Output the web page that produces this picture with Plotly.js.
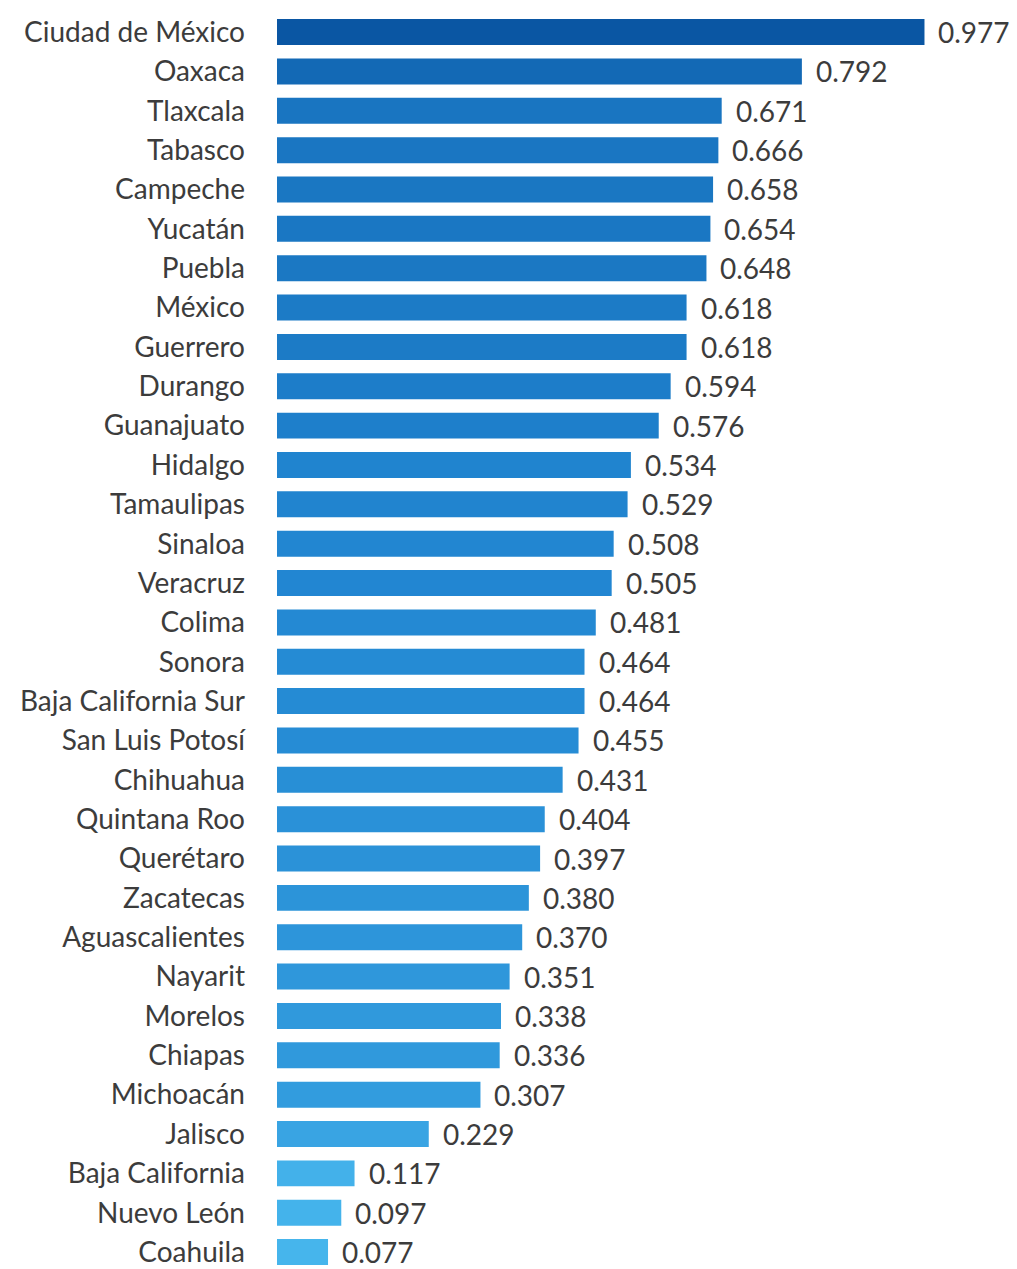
<!DOCTYPE html>
<html>
<head>
<meta charset="utf-8">
<script src="https://cdn.plot.ly/plotly-3.0.1.min.js"></script>
<style>html,body{margin:0;padding:0;background:#fff;}#chart{width:1017px;height:1269px;}</style>
</head>
<body>
<div id="chart"></div>
<script>
const states = ["Ciudad de México","Oaxaca","Tlaxcala","Tabasco","Campeche","Yucatán","Puebla","México","Guerrero","Durango","Guanajuato","Hidalgo","Tamaulipas","Sinaloa","Veracruz","Colima","Sonora","Baja California Sur","San Luis Potosí","Chihuahua","Quintana Roo","Querétaro","Zacatecas","Aguascalientes","Nayarit","Morelos","Chiapas","Michoacán","Jalisco","Baja California","Nuevo León","Coahuila"];
const values = [0.977,0.792,0.671,0.666,0.658,0.654,0.648,0.618,0.618,0.594,0.576,0.534,0.529,0.508,0.505,0.481,0.464,0.464,0.455,0.431,0.404,0.397,0.380,0.370,0.351,0.338,0.336,0.307,0.229,0.117,0.097,0.077];
const valueLabels = values.map(v => v.toFixed(3));

const FONT = "Lato, 'Noto Sans', sans-serif";
const TXT = "#3c3c3c";

const trace = {
  type: "bar",
  orientation: "h",
  x: values,
  y: states,
  marker: {
    color: values,
    cmin: 0.077,
    cmax: 0.977,
    colorscale: [[0, "#46b5ec"], [0.47, "#2287d2"], [1, "#0a56a3"]],
    line: {width: 0}
  },
  hoverinfo: "skip"
};

const annotations = values.map((v, i) => ({
  x: v, y: states[i], xref: "x", yref: "y",
  text: valueLabels[i], showarrow: false,
  xanchor: "left", yanchor: "middle", xshift: 13, yshift: 0,
  borderpad: 0,
  font: {family: FONT, size: 28, color: TXT}
}));

const layout = {
  width: 1017, height: 1269,
  margin: {l: 277, r: 11, t: 0, b: 0, pad: 0},
  paper_bgcolor: "#fff", plot_bgcolor: "#fff",
  bargap: 0.34,
  showlegend: false,
  xaxis: {range: [0, 1.1], visible: false, fixedrange: true},
  yaxis: {
    type: "category",
    range: [31.43, -0.815],
    showgrid: false, zeroline: false, showline: false,
    ticks: "", ticklabelstandoff: 31,
    tickfont: {family: FONT, size: 28, color: TXT}
  },
  annotations: annotations
};

Plotly.newPlot("chart", [trace], layout, {displayModeBar: false, staticPlot: true});
</script>
</body>
</html>
